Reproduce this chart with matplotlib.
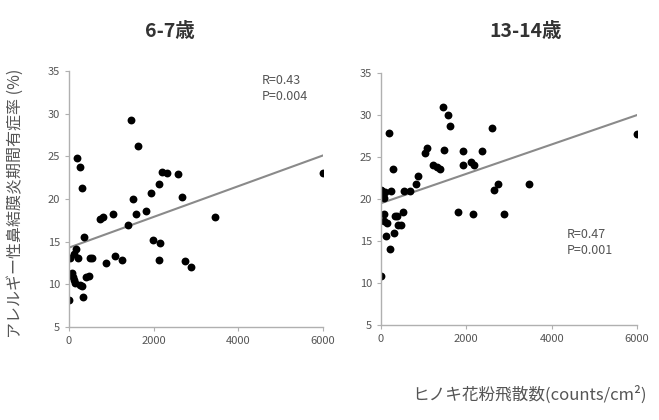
import numpy as np
import matplotlib.pyplot as plt

plt.rcParams['font.family'] = ['Noto Sans CJK JP', 'DejaVu Sans']

# 6-7歳
x_young = [0, 24, 60, 86, 118, 140, 196, 260, 300, 118, 165, 220, 260, 314, 338, 362,
           400, 480, 495, 535, 730, 810, 872, 1045, 1085, 1242, 1383, 1454, 1517, 1580,
           1627, 1808, 1926, 1974, 2130, 2146, 2130, 2209, 2327, 2570, 2664, 2735, 2885,
           3459, 6000]
y_young = [8.2, 13.1, 11.3, 10.9, 10.5, 10.2, 24.8, 23.8, 21.3, 13.6, 14.1, 13.1, 9.9, 9.8,
           8.5, 15.6, 10.9, 11.0, 13.1, 13.1, 17.6, 17.9, 12.5, 18.2, 13.3, 12.9, 17.0, 29.3,
           20.0, 18.2, 26.2, 18.6, 20.7, 15.2, 21.7, 14.9, 12.9, 23.2, 23.0, 22.9, 20.2, 12.7,
           12.0, 17.9, 23.0]

# 13-14歳
x_old = [0, 0, 39, 20, 80, 100, 62, 62, 140, 125, 180, 218, 240, 273, 296, 320, 374, 390,
         467, 514, 545, 685, 826, 880, 1036, 1075, 1230, 1324, 1387, 1449, 1488, 1581, 1620,
         1807, 1916, 1932, 2150, 2111, 2181, 2361, 2594, 2649, 2750, 2882, 3474, 6000]
y_old = [10.8, 21.1, 20.4, 21.0, 20.1, 20.8, 18.2, 17.4, 17.1, 15.6, 27.9, 14.0, 20.9, 23.6,
         16.0, 18.0, 18.0, 16.9, 16.9, 18.5, 20.9, 21.0, 21.8, 22.8, 25.5, 26.1, 24.0, 23.8,
         23.6, 31.0, 25.8, 30.0, 28.7, 18.5, 25.7, 24.1, 18.2, 24.4, 24.0, 25.7, 28.5, 21.1,
         21.8, 18.2, 21.8, 27.8]

# regression lines (end points)
fit_x = [0, 6000]
fit_young = [14.3, 25.1]
fit_old = [19.5, 30.0]

titles = ['6-7歳', '13-14歳']
title_x = [0.258, 0.797]
stats = ['R=0.43\nP=0.004', 'R=0.47\nP=0.001']
stat_pos = [(4550, 33.0), (4360, 14.8)]

fig = plt.figure(figsize=(6.59, 4.2), dpi=100)
ax1 = fig.add_axes([0.1047, 0.2214, 0.3853, 0.6096])
ax2 = fig.add_axes([0.578, 0.2262, 0.3886, 0.5998])

panels = [(ax1, x_young, y_young, fit_young), (ax2, x_old, y_old, fit_old)]
for i, (ax, xs, ys, fit) in enumerate(panels):
    ax.plot(fit_x, fit, color='#8a8a8a', lw=1.5, zorder=1)
    ax.scatter(xs, ys, s=32, color='black', zorder=2, linewidths=0)
    ax.set_xlim(0, 6000)
    ax.set_ylim(5, 35)
    ax.set_xticks([0, 2000, 4000, 6000])
    ax.set_yticks([5, 10, 15, 20, 25, 30, 35])
    for s in ['top', 'right']:
        ax.spines[s].set_visible(False)
    for s in ['left', 'bottom']:
        ax.spines[s].set_color('#b0b0b0')
        ax.spines[s].set_linewidth(1)
    ax.tick_params(colors='#b0b0b0', labelcolor='#555555', labelsize=8, length=3)
    ax.text(stat_pos[i][0], stat_pos[i][1], stats[i], fontsize=9, color='#555555',
            va='center', ha='left', linespacing=1.3)
    fig.text(title_x[i], 0.926, titles[i], fontsize=14, fontweight='bold', color='#333333',
             ha='center', va='center')

fig.text(0.023, 0.517, 'アレルギー性鼻結膜炎期間有症率 (%)', rotation=90, fontsize=11.5,
         color='#555555', ha='center', va='center')
fig.text(0.625, 0.06, 'ヒノキ花粉飛散数(counts/cm²)', fontsize=12, color='#555555',
         ha='left', va='center')

plt.savefig('out.png', dpi=100)
